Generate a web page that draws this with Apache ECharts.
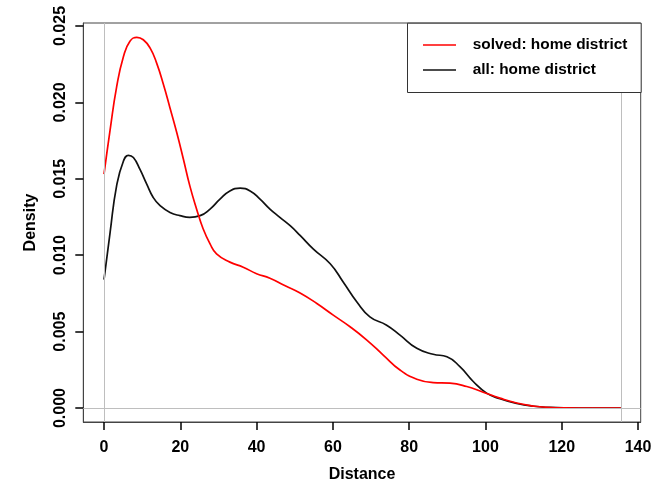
<!DOCTYPE html>
<html>
<head>
<meta charset="utf-8">
<script src="https://cdn.jsdelivr.net/npm/echarts@6/dist/echarts.min.js"></script>
<style>html,body{margin:0;padding:0;background:#fff}#c{width:667px;height:488px}</style>
</head>
<body>
<div id="c"></div>
<script>
// Data
const solvedX = [0, 1.6, 3.3, 5.1, 6.8, 8.6, 10.3, 12.1, 13.8, 15.6, 17.3, 19.1, 20.8, 22.5, 24.3, 26.0, 27.8, 29.5, 33.0, 36.5, 40.0, 43.5, 47.5, 51.4, 55.8, 60.1, 64.5, 68.9, 73.2, 77.6, 82.0, 86.3, 90.7, 95.1, 99.4, 103.8, 108.2, 112.6, 117.0, 121.0, 128.0, 135.5];
const solvedY = [0.0153, 0.0182, 0.0210, 0.0230, 0.0240, 0.02426, 0.0241, 0.02355, 0.02257, 0.02116, 0.01964, 0.0180, 0.0163, 0.01454, 0.0130, 0.01172, 0.01074, 0.01009, 0.00955, 0.00922, 0.00879, 0.0085, 0.0080, 0.00753, 0.00684, 0.00608, 0.00532, 0.00445, 0.00347, 0.00249, 0.00189, 0.00167, 0.00163, 0.00141, 0.00104, 0.00065, 0.00033, 0.00013, 0.00003, 0.00001, 0, 0];
const allX = [0, 1.6, 3.3, 5.1, 6.4, 7.7, 9.4, 11.2, 12.9, 14.7, 17.3, 19.9, 22.5, 25.2, 27.8, 30.4, 33.0, 35.7, 38.3, 40.9, 43.5, 46.1, 48.8, 51.4, 54.9, 59.3, 62.7, 66.3, 69.7, 74.1, 77.6, 82.0, 86.3, 89.9, 93.3, 96.8, 100.3, 103.8, 108.2, 112.6, 117.0, 121.0, 128.0, 135.5];
const allY = [0.0084, 0.0115, 0.01454, 0.01617, 0.01654, 0.01639, 0.01563, 0.01465, 0.01378, 0.01324, 0.0128, 0.01259, 0.01248, 0.01259, 0.01302, 0.01367, 0.01421, 0.01439, 0.01421, 0.01367, 0.01302, 0.01248, 0.01193, 0.0113, 0.0104, 0.00944, 0.00825, 0.00694, 0.00597, 0.00542, 0.00477, 0.00391, 0.00352, 0.00336, 0.00271, 0.00174, 0.00098, 0.00061, 0.0003, 0.00012, 0.00004, 0.00001, 0, 0];
const xTicks = [0, 20, 40, 60, 80, 100, 120, 140];
const yTicks = [0, 0.005, 0.010, 0.015, 0.020, 0.025];
const yTickLabels = ['0.000', '0.005', '0.010', '0.015', '0.020', '0.025'];
const seriesNames = ['solved: home district', 'all: home district'];
const refX = [0, 135.5];
const refY = [0];

const zip = (xs, ys) => xs.map((x, i) => [x, ys[i]]);
const chart = echarts.init(document.getElementById('c'));
const FONT = '"Liberation Sans", Arial, sans-serif';
const lblStyle = {fontFamily: FONT, fontWeight: 'bold', fontSize: 16, color: '#000'};

chart.setOption({
  animation: false,
  grid: {left: 83.3, right: 26.3, top: 23, bottom: 64, show: true, borderColor: '#444', borderWidth: 1, backgroundColor: 'transparent'},
  xAxis: {
    type: 'value', min: -5.43, max: 140.7,
    name: 'Distance', nameLocation: 'middle', nameGap: 45,
    nameTextStyle: lblStyle,
    axisLine: {show: true, onZero: false, lineStyle: {color: '#444', width: 1}},
    splitLine: {show: false},
    axisTick: {show: true, length: 8, lineStyle: {color: '#000', width: 1.5}, customValues: xTicks},
    axisLabel: Object.assign({margin: 18, customValues: xTicks}, lblStyle)
  },
  yAxis: {
    type: 'value', min: -0.000911, max: 0.025195,
    name: 'Density', nameLocation: 'middle', nameGap: 45,
    nameTextStyle: lblStyle,
    axisLine: {show: true, onZero: false, lineStyle: {color: '#444', width: 1}},
    splitLine: {show: false},
    axisTick: {show: true, length: 8, lineStyle: {color: '#000', width: 1.5}, customValues: yTicks},
    axisLabel: Object.assign({rotate: 90, margin: 15, customValues: yTicks,
      formatter: v => { const i = yTicks.findIndex(t => Math.abs(t - v) < 1e-9); return i >= 0 ? yTickLabels[i] : ''; }}, lblStyle)
  },
  series: [
    {
      name: 'ref', type: 'line', data: [], silent: true,
      markLine: {
        silent: true, symbol: 'none', label: {show: false},
        lineStyle: {color: '#bebebe', width: 1, type: 'solid'},
        data: refX.map(v => ({xAxis: v})).concat(refY.map(v => ({yAxis: v})))
      }
    },
    {
      name: seriesNames[1], type: 'line', data: zip(allX, allY), smooth: 0.5,
      showSymbol: false, lineStyle: {color: '#111', width: 1.7}, itemStyle: {color: '#111'}
    },
    {
      name: seriesNames[0], type: 'line', data: zip(solvedX, solvedY), smooth: 0.5,
      showSymbol: false, lineStyle: {color: '#ff0000', width: 1.7}, itemStyle: {color: '#ff0000'}
    }
  ],
  graphic: [
    {type: 'rect', left: 407, top: 22.7, shape: {width: 233.7, height: 69.3}, style: {fill: '#fff', stroke: '#333', lineWidth: 1}, z: 10},
    {type: 'line', shape: {x1: 423, y1: 45, x2: 456, y2: 45}, style: {stroke: '#ff0000', lineWidth: 1.7}, z: 11},
    {type: 'line', shape: {x1: 423, y1: 70, x2: 456, y2: 70}, style: {stroke: '#111', lineWidth: 1.7}, z: 11},
    {type: 'text', x: 472.7, y: 45, style: {text: seriesNames[0], font: 'bold 15.4px ' + FONT, fill: '#000', verticalAlign: 'middle'}, z: 11},
    {type: 'text', x: 472.7, y: 70, style: {text: seriesNames[1], font: 'bold 15.4px ' + FONT, fill: '#000', verticalAlign: 'middle'}, z: 11}
  ]
});
</script>
</body>
</html>
